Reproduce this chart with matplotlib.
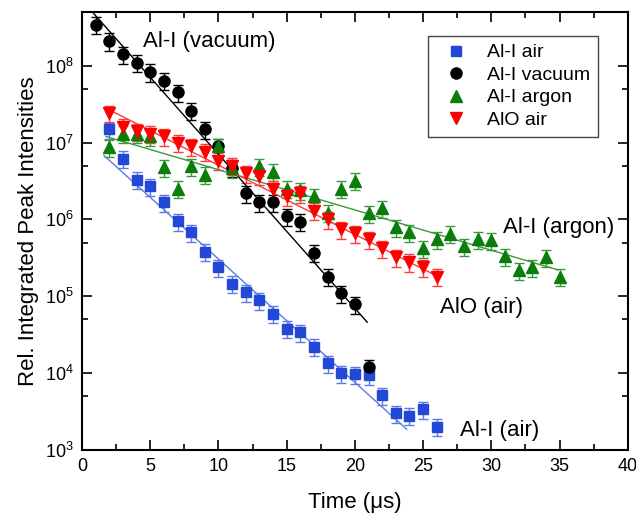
import numpy as np
import matplotlib
matplotlib.use("Agg")
import matplotlib.pyplot as plt
from matplotlib.ticker import LogLocator, LogFormatterMathtext, MultipleLocator

plt.rcParams['font.family'] = ['Liberation Sans', 'DejaVu Sans']
plt.rcParams['mathtext.fontset'] = 'custom'
plt.rcParams['mathtext.rm'] = 'Liberation Sans'

# --- data ---
t_air = [2, 3, 4, 5, 6, 7, 8, 9, 10, 11, 12, 13, 14, 15, 16, 17, 18, 19, 20, 21, 22, 23, 24, 25, 26]
i_air = [1.5e7, 6.2e6, 3.3e6, 2.7e6, 1.66e6, 9.4e5, 6.8e5, 3.8e5, 2.4e5, 1.45e5, 1.13e5, 8.9e4,
         5.9e4, 3.8e4, 3.4e4, 2.2e4, 1.35e4, 1.0e4, 9.7e3, 9.4e3, 5.2e3, 3.0e3, 2.8e3, 3.4e3, 2.0e3]

t_vac = [1, 2, 3, 4, 5, 6, 7, 8, 9, 10, 11, 12, 13, 14, 15, 16, 17, 18, 19, 20, 21]
i_vac = [3.4e8, 2.1e8, 1.4e8, 1.1e8, 8.3e7, 6.4e7, 4.5e7, 2.6e7, 1.5e7, 8.9e6, 4.7e6, 2.2e6,
         1.66e6, 1.66e6, 1.1e6, 9.3e5, 3.7e5, 1.8e5, 1.1e5, 7.9e4, 1.2e4]

t_arg = [2, 3, 4, 5, 6, 7, 8, 9, 10, 11, 13, 14, 15, 16, 17, 18, 19, 20, 21, 22, 23, 24, 25, 26,
         27, 28, 29, 30, 31, 32, 33, 34, 35]
i_arg = [8.7e6, 1.3e7, 1.3e7, 1.2e7, 4.8e6, 2.5e6, 4.9e6, 3.8e6, 9.0e6, 4.6e6, 4.9e6, 4.2e6,
         2.5e6, 2.4e6, 2.0e6, 1.23e6, 2.5e6, 3.2e6, 1.2e6, 1.4e6, 7.9e5, 6.8e5, 4.2e5, 5.5e5,
         6.5e5, 4.5e5, 5.5e5, 5.4e5, 3.3e5, 2.2e5, 2.4e5, 3.2e5, 1.8e5]

t_alo = [2, 3, 4, 5, 6, 7, 8, 9, 10, 11, 12, 13, 14, 15, 16, 17, 18, 19, 20, 21, 22, 23, 24, 25, 26]
i_alo = [2.4e7, 1.6e7, 1.4e7, 1.3e7, 1.2e7, 1.0e7, 8.9e6, 7.6e6, 5.8e6, 5.0e6, 4.0e6, 3.7e6,
         2.5e6, 2.0e6, 2.2e6, 1.3e6, 1.0e6, 7.4e5, 6.6e5, 5.5e5, 4.2e5, 3.2e5, 2.8e5, 2.4e5, 1.8e5]

rel_err = 0.25

# exponential fit lines (end points)
fit_air_t, fit_air_i = [1.6, 23.8], [6.8e6, 1.86e3]
fit_vac_t, fit_vac_i = [0.8, 20.9], [4.9e8, 4.6e4]
fit_arg_t, fit_arg_i = [1.76, 34.9], [1.2e7, 2.2e5]
fit_alo_t, fit_alo_i = [1.76, 26.1], [2.8e7, 1.8e5]

series = [
    ("Al-I air", t_air, i_air, 's', 6.5, '#2347d6', '#5a7ae8', fit_air_t, fit_air_i),
    ("Al-I vacuum", t_vac, i_vac, 'o', 8.0, 'black', 'black', fit_vac_t, fit_vac_i),
    ("Al-I argon", t_arg, i_arg, '^', 8.5, '#0a7d0a', '#3a9a3a', fit_arg_t, fit_arg_i),
    ("AlO air", t_alo, i_alo, 'v', 9.0, '#ff0000', '#ff3a3a', fit_alo_t, fit_alo_i),
]

fig = plt.figure(figsize=(6.36, 5.23), dpi=100)
ax = fig.add_axes([0.129, 0.1396, 0.858, 0.8375])

handles = []
for label, t, y, mk, ms, col, ecol, ft, fy in series:
    t = np.array(t, dtype=float)
    y = np.array(y, dtype=float)
    ax.errorbar(t, y, yerr=rel_err * y, fmt='none', ecolor=ecol, elinewidth=1.0,
                capsize=3.6, capthick=1.0, zorder=2)
    h, = ax.plot(t, y, linestyle='none', marker=mk, markersize=ms, color=col,
                 markeredgecolor=col, zorder=3, label=label)
    handles.append(h)
    lc = ecol if col != 'black' else 'black'
    ax.plot(ft, fy, '-', color=lc, linewidth=1.0, zorder=2.5)

ax.set_yscale('log')
ax.set_xlim(0, 40)
ax.set_ylim(1e3, 5e8)

ax.xaxis.set_major_locator(MultipleLocator(5))
ax.xaxis.set_minor_locator(MultipleLocator(2.5))
ax.yaxis.set_major_locator(LogLocator(base=10, numticks=10))
ax.yaxis.set_minor_locator(LogLocator(base=10, subs=[5.0], numticks=10))
ax.yaxis.set_major_formatter(LogFormatterMathtext())
ax.yaxis.set_minor_formatter(plt.NullFormatter())

ax.tick_params(which='both', direction='in', top=True, right=True, width=1.2)
ax.tick_params(which='major', length=7, labelsize=13, pad=6)
ax.tick_params(which='minor', length=4)
for sp in ax.spines.values():
    sp.set_linewidth(1.5)

ax.set_xlabel('Time (μs)', fontsize=16, labelpad=12)
ax.set_ylabel('Rel. Integrated Peak Intensities', fontsize=16, labelpad=4)

ax.text(9.3, 10**8.32, 'Al-I (vacuum)', fontsize=16, ha='center', va='center')
ax.text(34.9, 10**5.90, 'Al-I (argon)', fontsize=16, ha='center', va='center')
ax.text(29.3, 10**4.86, 'AlO (air)', fontsize=16, ha='center', va='center')
ax.text(30.6, 10**3.26, 'Al-I (air)', fontsize=16, ha='center', va='center')

leg = ax.legend(handles=handles, loc='upper right', bbox_to_anchor=(0.945, 0.945),
                borderaxespad=0, fontsize=14, fancybox=False, framealpha=1,
                edgecolor='#444444', handletextpad=0.6, labelspacing=0.25,
                borderpad=0.4, handlelength=2.0)
leg.get_frame().set_linewidth(1.0)

plt.savefig('out.png', dpi=100)
plt.close()
